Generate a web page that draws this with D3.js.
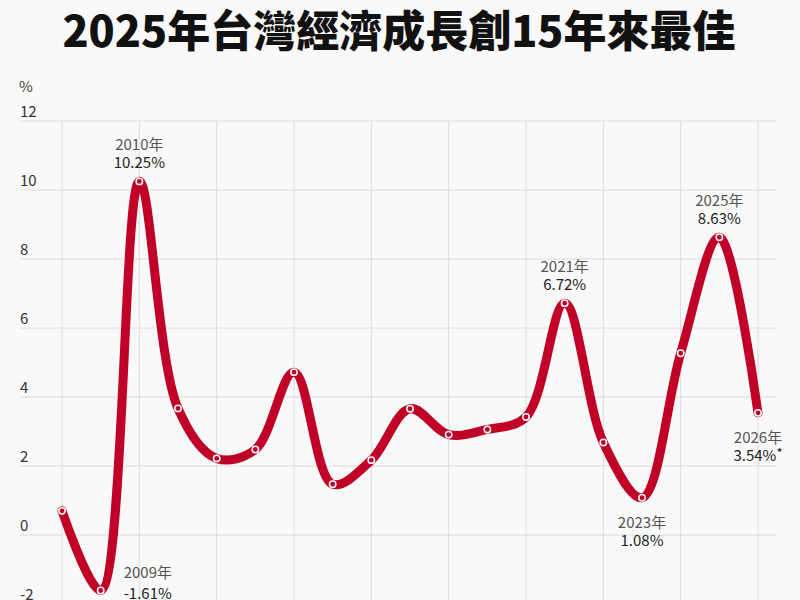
<!DOCTYPE html>
<html><head><meta charset="utf-8">
<script src="https://cdn.jsdelivr.net/npm/d3@7"></script>
<style>
html,body{margin:0;padding:0;background:#f9f9f9;}
svg{display:block;font-family:"Noto Sans CJK TC","Noto Sans",sans-serif;}
</style></head>
<body><svg id="c" width="800" height="600"></svg>
<script>
const years = [2008,2009,2010,2011,2012,2013,2014,2015,2016,2017,2018,2019,2020,2021,2022,2023,2024,2025,2026];
const growth = [0.70,-1.61,10.25,3.67,2.22,2.48,4.72,1.47,2.17,3.66,2.91,3.06,3.42,6.72,2.68,1.08,5.27,8.63,3.54];
const yTicks = [-2,0,2,4,6,8,10,12];
const xGridYears = [2008,2010,2012,2014,2016,2018,2020,2022,2024,2026];
const labelYears = [2009,2010,2021,2023,2025,2026];
const labelPlace = ["right","above","above","below","above","below"];
const labelSuffix = ["","","","","","*"];
const titleText = "2025年台灣經濟成長創15年來最佳";
const unitText = "%";

const svg = d3.select("#c");
const red = "#c10028";
const x = d3.scaleLinear().domain([2008,2026]).range([62,758]);
const y = d3.scaleLinear().domain([-2,12]).range([604,121]);

svg.append("rect").attr("width",800).attr("height",600).attr("fill","#f9f9f9");

svg.append("text").attr("x",399).attr("y",47).attr("text-anchor","middle")
  .attr("font-size",43).attr("font-weight",900).attr("fill","#111").text(titleText);

svg.append("text").attr("x",19).attr("y",92).attr("font-size",15).attr("fill","#444").text(unitText);

const g = svg.append("g");
g.selectAll("line.h").data(yTicks).join("line").attr("class","h")
  .attr("x1",20).attr("x2",776).attr("y1",d=>y(d)).attr("y2",d=>y(d))
  .attr("stroke","#dcdcdc").attr("stroke-width",1);
g.selectAll("line.v").data(xGridYears).join("line").attr("class","v")
  .attr("x1",d=>x(d)).attr("x2",d=>x(d)).attr("y1",y(12)).attr("y2",600)
  .attr("stroke","#dcdcdc").attr("stroke-width",1);
g.selectAll("text.t").data(yTicks).join("text").attr("class","t")
  .attr("x",20).attr("y",d=>y(d)-4).attr("font-size",15).attr("fill","#333").text(d=>String(d));

const pts = years.map((yr,i)=>[yr,growth[i]]);
const line = d3.line().x(d=>x(d[0])).y(d=>y(d[1])).curve(d3.curveCatmullRom.alpha(0.5));
svg.append("path").attr("d",line(pts)).attr("fill","none").attr("stroke",red)
  .attr("stroke-width",9).attr("stroke-linecap","round").attr("stroke-linejoin","round");

svg.selectAll("circle.p").data(pts).join("circle").attr("class","p")
  .attr("cx",d=>x(d[0])).attr("cy",d=>y(d[1])).attr("r",3.2)
  .attr("fill",red).attr("stroke","#fff").attr("stroke-width",1.5);

labelYears.forEach((yr,i)=>{
  const v = growth[years.indexOf(yr)];
  const px = x(yr), py = y(v);
  let tx=px, anchor="middle", y1, y2;
  if(labelPlace[i]==="above"){ y1=py-31; y2=py-13; }
  else if(labelPlace[i]==="below"){ y1=py+30; y2=py+48; }
  else { tx=px+23; anchor="start"; y1=py-13; y2=py+8; }
  svg.append("text").attr("x",tx).attr("y",y1).attr("text-anchor",anchor)
    .attr("font-size",15).attr("fill","#555").text(yr+"年");
  const t2 = svg.append("text").attr("x",tx).attr("y",y2).attr("text-anchor",anchor)
    .attr("font-size",15).attr("fill","#222");
  t2.append("tspan").text(v.toFixed(2)+"%");
  if(labelSuffix[i]) t2.append("tspan").attr("font-size",13).attr("dy",-3).text(labelSuffix[i]);
});
</script></body></html>
